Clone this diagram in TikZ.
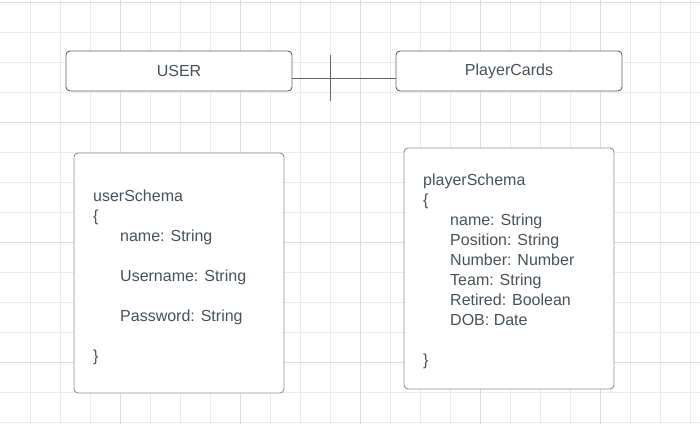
\documentclass[tikz,border=0pt]{standalone}
\usepackage{fontspec}
\setmainfont{Liberation Sans}
\usepackage{xcolor}
\definecolor{gridminor}{HTML}{EBEBEB}
\definecolor{gridmajor}{HTML}{DDDDDD}
\definecolor{inkline}{HTML}{5F646C}
\definecolor{boxline}{HTML}{8E9298}
\definecolor{inktext}{HTML}{4A5059}

\begin{document}
\begin{tikzpicture}[x=1pt,y=-1pt,
    gridline/.style={gridminor, line width=0.8pt},
    gridbold/.style={gridmajor, line width=0.8pt},
    entity/.style={draw=inkline, line width=0.9pt, rounded corners=4pt, fill=white,
      minimum width=226pt, minimum height=40pt, inner sep=0pt,
      text=inktext, font=\fontsize{16}{20}\selectfont},
    schemabox/.style={draw=boxline, line width=0.9pt, rounded corners=4pt, fill=white,
      minimum width=210pt, inner sep=0pt},
    fields/.style={anchor=north west, inner sep=0pt, align=left,
      text=inktext, font=\fontsize{16}{20}\selectfont}]
  \useasboundingbox[fill=white] (0,0) rectangle (700,424);
  % grid
  \foreach \gx in {30,60,...,690} \draw[gridline] (\gx,0) -- (\gx,424);
  \foreach \gy in {2,32,...,422} \draw[gridline] (0,\gy) -- (700,\gy);
  \foreach \gx in {120,240,...,600} \draw[gridbold] (\gx,0) -- (\gx,424);
  \foreach \gy in {2,122,242,362} \draw[gridbold] (0,\gy) -- (700,\gy);
  \begin{scope}
    \node[entity] (user) at (179,71) {USER};
    \node[entity] (cards) at (509,71) {PlayerCards};
    \coordinate (tick) at (330,78);
    \draw[inkline, line width=0.9pt] ([yshift=-7pt]user.east) -- ([yshift=-7pt]cards.west);
    \draw[inkline, line width=0.9pt] (tick) ++(0,-23) -- ++(0,46);
    \node[schemabox, minimum height=240pt] (ubox) at (179,273) {};
    \node[schemabox, minimum height=241pt] (pbox) at (509,268.5) {};
    \node[fields] (utext) at (93,189.5) {userSchema\\\{\\\hspace*{27pt}name: String\\[20pt]
      \hspace*{27pt}Username: String\\[20pt]\hspace*{27pt}Password: String\\[20pt]\}};
    \node[fields] (ptext) at (423,174) {playerSchema\\\{\\\hspace*{27pt}name: String\\
      \hspace*{27pt}Position: String\\\hspace*{27pt}Number: Number\\
      \hspace*{27pt}Team: String\\\hspace*{27pt}Retired: Boolean\\
      \hspace*{27pt}DOB: Date\\[20pt]\}};
  \end{scope}
\end{tikzpicture}
\end{document}
